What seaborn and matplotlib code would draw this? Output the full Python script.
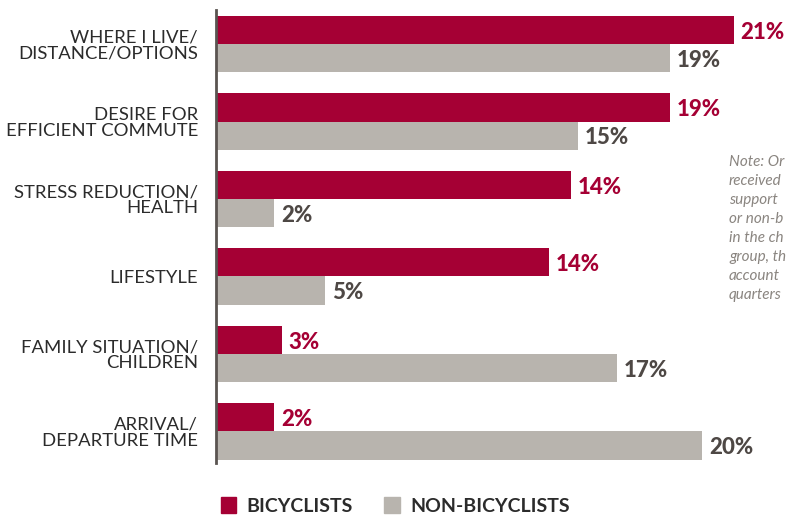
import matplotlib
matplotlib.use("Agg")
import matplotlib.pyplot as plt
import seaborn as sns
import pandas as pd
from matplotlib.patches import Patch

categories = ["WHERE I LIVE/\nDISTANCE/OPTIONS", "DESIRE FOR\nEFFICIENT COMMUTE",
              "STRESS REDUCTION/\nHEALTH", "LIFESTYLE", "FAMILY SITUATION/\nCHILDREN",
              "ARRIVAL/\nDEPARTURE TIME"]
bicyclists = [21.3, 18.7, 14.6, 13.7, 2.7, 2.4]
non_bicyclists = [18.7, 14.9, 2.4, 4.5, 16.5, 20.0]
bic_labels = ["21%", "19%", "14%", "14%", "3%", "2%"]
non_labels = ["19%", "15%", "2%", "5%", "17%", "20%"]
groups = ["BICYCLISTS", "NON-BICYCLISTS"]
note_lines = ["Note: Or", "received", "support", "or non-b", "in the ch",
              "group, th", "account", "quarters"]

RED = "#A50034"
GREY = "#B8B4AE"
DARK = "#4E4845"

df = pd.DataFrame({
    "cat": categories * 2,
    "val": bicyclists + non_bicyclists,
    "grp": [groups[0]] * len(categories) + [groups[1]] * len(categories),
})

sns.set_theme(style="white")
plt.rcParams["font.family"] = ["Lato", "DejaVu Sans"]

fig = plt.figure(figsize=(7.89, 5.16), dpi=100)
ax = fig.add_axes([216 / 789, 1 - 463 / 516, (789 - 216) / 789, 453 / 516])

sns.barplot(data=df, y="cat", x="val", hue="grp", orient="h", ax=ax,
            palette=[RED, GREY], width=0.73, saturation=1, legend=False,
            linewidth=0)

ax.set_xlim(0, 573 / 24.3)
ax.set_ylim(5.41, -0.44)
for s in ["top", "right", "bottom"]:
    ax.spines[s].set_visible(False)
ax.spines["left"].set_color("#5A5450")
ax.spines["left"].set_linewidth(2)
ax.set_xticks([])
ax.set_xlabel("")
ax.set_ylabel("")
ax.tick_params(axis="y", length=0, pad=13)
for t in ax.get_yticklabels():
    t.set_fontsize(13.3)
    t.set_color("#2B2B2B")
    t.set_linespacing(1.0)

for cont, labs, col in zip(ax.containers, [bic_labels, non_labels], [RED, DARK]):
    for bar, lab in zip(cont, labs):
        ax.text(bar.get_width() + 0.28, bar.get_y() + bar.get_height() / 2 + 0.03, lab,
                va="center", ha="left", fontsize=16, fontweight="black", color=col)

for i, line in enumerate(note_lines):
    fig.text(729 / 789, 1 - (162 + 19 * i) / 516, line, fontsize=11, style="italic",
             color="#8A8580", va="center", ha="left")

handles = [Patch(color=RED), Patch(color=GREY)]
fig.legend(handles, groups, loc="center left", bbox_to_anchor=(203 / 789, 1 - 506 / 516),
           ncol=2, frameon=False, handlelength=0.8, handleheight=0.9, handletextpad=0.55,
           columnspacing=1.6, prop={"size": 14, "weight": "bold"}, labelcolor="#2B2B2B")

fig.savefig("out.png", dpi=100)
